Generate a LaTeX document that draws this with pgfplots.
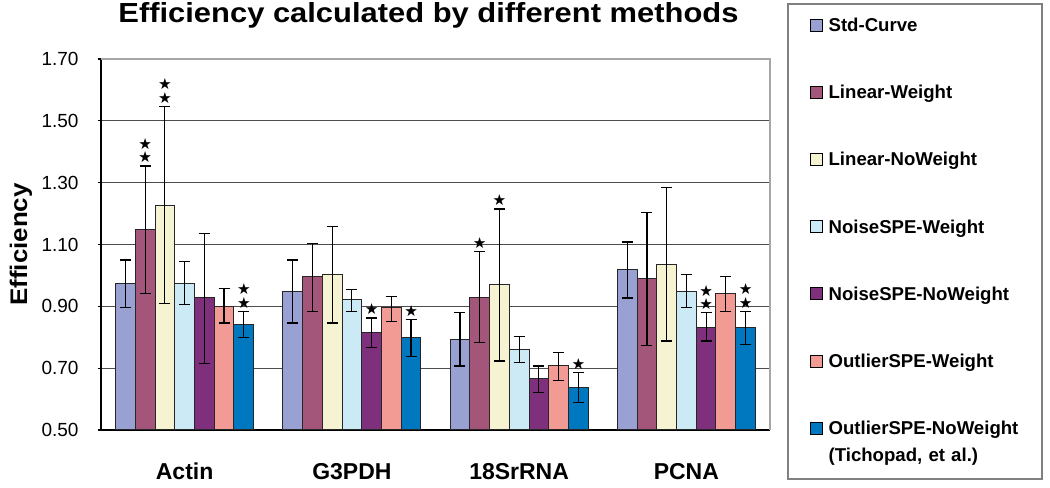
\documentclass[border=0pt]{standalone}
\usepackage{pgfplots}
\pgfplotsset{compat=1.18}
\usepackage{graphicx}
\usepackage{fontspec}
\setmainfont{Liberation Sans}
\newfontfamily\starfont{DejaVu Sans}
\definecolor{cStd}{RGB}{153,161,211}
\definecolor{cLW}{RGB}{163,86,122}
\definecolor{cLNW}{RGB}{245,243,210}
\definecolor{cNW}{RGB}{204,234,245}
\definecolor{cNNW}{RGB}{127,48,125}
\definecolor{cOW}{RGB}{242,154,148}
\definecolor{cONW}{RGB}{0,120,192}
\pgfplotsset{
  mybar/.style={draw=black!85, line width=0.5pt,
    /pgfplots/error bars/y dir=both,
    /pgfplots/error bars/y explicit,
    /pgfplots/error bars/error bar style={black, line width=0.6pt},
    /pgfplots/error bars/error mark options={rotate=90, black, mark size=2.75pt, line width=0.6pt}},
  stars/.style={only marks, mark=none, forget plot, bar shift=0pt,
    nodes near coords={\starfont\fontsize{7.6}{8}\selectfont ★},
    nodes near coords style={anchor=center, inner sep=0pt, text=black, yshift=#1}},
}
\begin{document}
\begin{tikzpicture}
\begin{axis}[
  scale only axis, width=334.5pt, height=185.5pt,
  xmin=-0.5, xmax=3.5, ymin=0.5, ymax=1.7,
  ybar=0pt, bar width=0.118,
  clip=false,
  axis x line*=bottom, axis y line*=left,
  axis line style={black, line width=0.6pt},
  xtick={0,1,2,3}, xticklabels={Actin,G3PDH,18SrRNA,PCNA},
  x tick style={draw=none},
  xticklabel style={font=\bfseries\fontsize{11.5}{13}\selectfont, anchor=base, yshift=-23pt},
  ytick={0.5,0.7,0.9,1.1,1.3,1.5,1.7},
  tick align=outside, major tick length=1.7pt,
  y tick style={black, line width=0.6pt},
  /pgf/number format/assume math mode=true,
  yticklabel style={/pgf/number format/fixed, /pgf/number format/fixed zerofill,
    /pgf/number format/precision=2, font=\fontsize{9.5}{11}\selectfont, xshift=-6pt},
  ymajorgrids, major grid style={black!70, line width=0.6pt},
  every axis title shift=0pt,
  title={\scalebox{1.12}[1]{Efficiency calculated by different methods}},
  title style={font=\bfseries\fontsize{13.8}{16}\selectfont, at={(0.4895,1.0978)}, anchor=base, inner sep=0pt},
  ylabel={\scalebox{1.08}[1]{Efficiency}},
  ylabel style={font=\bfseries\fontsize{12}{14}\selectfont, at={(axis description cs:-0.1106,0.5)}, anchor=base, inner sep=1pt},
  legend style={at={(1.0254,1.1509)}, anchor=north west, draw=black!50, line width=1pt, fill=white,
    font=\bfseries\fontsize{9.3}{13.3}\selectfont, inner xsep=11pt, inner ysep=6.7pt, row sep=24.6pt,
    nodes={text height=7pt, text depth=2pt, inner xsep=2.8pt, inner ysep=0pt, text width=92.9pt, align=left},
    cells={anchor=base west}},
  legend image code/.code={\draw[#1, draw=black, line width=0.5pt] (0pt,0.2pt) rectangle (6pt,6.2pt);},
  after end axis/.code={
    \draw[black!35, line width=0.9pt] (rel axis cs:0,1) -- (rel axis cs:1,1) -- (rel axis cs:1,0);
    \path (rel axis cs:-0.15097,-0.15633) rectangle (rel axis cs:1.41854,1.15903);
  },
]
\addplot[mybar, fill=cStd] coordinates {
  (0,0.974) += (0,0.076) -= (0,0.079)
  (1,0.949) += (0,0.101) -= (0,0.103)
  (2,0.793) += (0,0.086) -= (0,0.086)
  (3,1.018) += (0,0.090) -= (0,0.091)};
\addlegendentry{\mbox{Std-Curve}}
\addplot[mybar, fill=cLW] coordinates {
  (0,1.150) += (0,0.204) -= (0,0.208)
  (1,0.996) += (0,0.108) -= (0,0.112)
  (2,0.927) += (0,0.150) -= (0,0.145)
  (3,0.991) += (0,0.213) -= (0,0.219)};
\addlegendentry{\mbox{Linear-Weight}}
\addplot[mybar, fill=cLNW] coordinates {
  (0,1.227) += (0,0.320) -= (0,0.317)
  (1,1.002) += (0,0.155) -= (0,0.156)
  (2,0.969) += (0,0.246) -= (0,0.246)
  (3,1.034) += (0,0.251) -= (0,0.246)};
\addlegendentry{\mbox{Linear-NoWeight}}
\addplot[mybar, fill=cNW] coordinates {
  (0,0.974) += (0,0.071) -= (0,0.069)
  (1,0.922) += (0,0.032) -= (0,0.038)
  (2,0.761) += (0,0.042) -= (0,0.043)
  (3,0.949) += (0,0.053) -= (0,0.054)};
\addlegendentry{\mbox{NoiseSPE-Weight}}
\addplot[mybar, fill=cNNW] coordinates {
  (0,0.927) += (0,0.209) -= (0,0.213)
  (1,0.814) += (0,0.048) -= (0,0.048)
  (2,0.665) += (0,0.042) -= (0,0.043)
  (3,0.831) += (0,0.048) -= (0,0.043)};
\addlegendentry{\mbox{NoiseSPE-NoWeight}}
\addplot[mybar, fill=cOW] coordinates {
  (0,0.900) += (0,0.058) -= (0,0.054)
  (1,0.895) += (0,0.036) -= (0,0.044)
  (2,0.707) += (0,0.043) -= (0,0.047)
  (3,0.943) += (0,0.053) -= (0,0.059)};
\addlegendentry{\mbox{OutlierSPE-Weight}}
\addplot[mybar, fill=cONW] coordinates {
  (0,0.841) += (0,0.043) -= (0,0.042)
  (1,0.799) += (0,0.058) -= (0,0.060)
  (2,0.638) += (0,0.047) -= (0,0.049)
  (3,0.831) += (0,0.053) -= (0,0.054)};
\addlegendentry[text depth=15.3pt]{\mbox{OutlierSPE-NoWeight}\\\mbox{(Tichopad, et al.)}}
% significance stars (lower row, at the error bar tops)
\addplot[stars=4.3pt] coordinates {
  (-0.236,1.354) (-0.118,1.547) (0.354,0.884)
  (1.118,0.862) (1.354,0.857)
  (1.764,1.077) (1.882,1.215) (2.354,0.685)
  (3.118,0.879) (3.354,0.884)};
% second stars of the double ones
\addplot[stars=10.9pt] coordinates {
  (-0.236,1.354) (-0.118,1.547) (0.354,0.884)
  (3.118,0.879) (3.354,0.884)};
\end{axis}
\end{tikzpicture}
\end{document}
